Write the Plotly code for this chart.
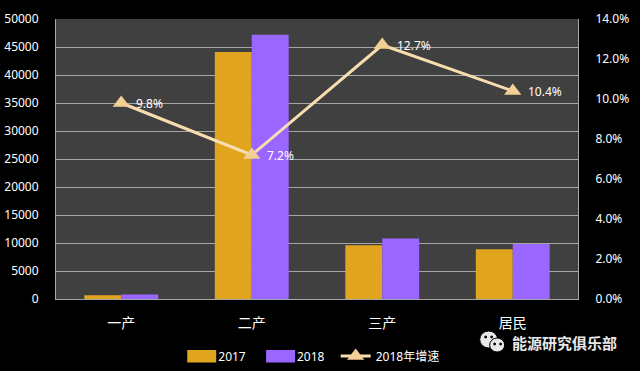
import plotly.graph_objects as go

categories = ["一产", "二产", "三产", "居民"]
values_2017 = [650, 44100, 9600, 8900]
values_2018 = [800, 47200, 10800, 9800]
growth_2018 = [9.8, 7.2, 12.7, 10.4]
growth_labels = ["9.8%", "7.2%", "12.7%", "10.4%"]
watermark = "能源研究俱乐部"

FONT = "Noto Sans, Noto Sans CJK SC, sans-serif"
CJK = "Noto Sans CJK SC, sans-serif"
W, H = 640, 371
L, R, T, B = 55.5, 578.5, 19, 299
COL17, COL18 = "#E0A41E", "#9966FF"

def conv_x(px): return (px - L) / (R - L)
def conv_y(py): return (B - py) / (B - T)

fig = go.Figure()
fig.add_bar(x=categories, y=values_2017, name="2017\u00a0\u00a0", marker=dict(color=COL17, line_width=0), offsetgroup="a")
fig.add_bar(x=categories, y=values_2018, name="2018\u00a0\u00a0", marker=dict(color=COL18, line_width=0), offsetgroup="b")
fig.add_scatter(x=categories, y=growth_2018, name="2018年增速", yaxis="y2", mode="lines+markers",
                line=dict(color="#F7DDB0", width=3),
                marker=dict(symbol="triangle-up", size=15, color="#F2CF94"))

annotations = [dict(x=c, y=g, xref="x", yref="y2", text=t, showarrow=False, xanchor="left", xshift=13,
                    font=dict(color="white", size=12, family=FONT))
               for c, g, t in zip(categories, growth_2018, growth_labels)]
annotations.append(dict(x=conv_x(510), y=conv_y(342), xref="paper", yref="paper", text=f"<b>{watermark}</b>",
                        showarrow=False, xanchor="left", yanchor="middle",
                        font=dict(color="#E8E8E8", size=15, family=CJK)))

def px_ellipse(x0, y0, x1, y1, fill, line="#000"):
    return dict(type="circle", xref="paper", yref="paper", x0=conv_x(x0), x1=conv_x(x1),
                y0=conv_y(y1), y1=conv_y(y0), fillcolor=fill, line=dict(color=line, width=1), layer="above")

def px_rect(x0, y0, x1, y1, fill):
    return dict(type="rect", xref="paper", yref="paper", x0=conv_x(x0), x1=conv_x(x1),
                y0=conv_y(y1), y1=conv_y(y0), fillcolor=fill, line_width=0, layer="above")

shapes = [
    px_ellipse(480, 331, 498, 348, "#E8E8E8"), px_ellipse(490, 338, 505, 352, "#E8E8E8"),
    px_ellipse(485, 336, 487, 338, "#000", "#000"), px_ellipse(491, 336, 493, 338, "#000", "#000"),
    px_ellipse(494, 343, 496, 345, "#000", "#000"), px_ellipse(500, 343, 502, 345, "#000", "#000"),
    px_rect(187, 350, 216, 362.5, COL17), px_rect(266, 350, 295, 362.5, COL18),
]

fig.update_layout(
    width=W, height=H, autosize=False,
    margin=dict(l=L, r=W - R, t=T, b=H - B, pad=0, autoexpand=False),
    paper_bgcolor="#000000", plot_bgcolor="#404040",
    barmode="group", bargap=0.434, bargroupgap=0,
    font=dict(family=FONT, color="white", size=12),
    xaxis=dict(showgrid=False, showline=True, linecolor="#A6A6A6", linewidth=1, ticks="", automargin=False,
               ticklabelstandoff=11, tickfont=dict(family=CJK, size=14, color="white")),
    yaxis=dict(range=[0, 50000], dtick=5000, showgrid=True, gridcolor="#A6A6A6", gridwidth=1, automargin=False,
               showline=True, linecolor="#A6A6A6", linewidth=1, ticks="", ticklabelstandoff=14,
               zeroline=False, tickformat="d", tickfont=dict(size=12, color="white")),
    yaxis2=dict(range=[0, 14], dtick=2, overlaying="y", side="right", showgrid=False, zeroline=False, automargin=False,
                showline=True, linecolor="#A6A6A6", linewidth=1, ticks="", ticklabelstandoff=14,
                ticksuffix="%", tickformat=".1f", tickfont=dict(size=12, color="white")),
    legend=dict(orientation="h", x=conv_x(178), y=conv_y(341.5), xanchor="left", yanchor="top", bgcolor="rgba(0,0,0,0)",
                font=dict(size=12, color="white", family=FONT), itemwidth=30, traceorder="normal"),
    annotations=annotations, shapes=shapes,
)
fig.write_html("out.html", config=dict(displayModeBar=False),
               post_script="document.body.style.margin='0';document.documentElement.style.background='#000';")
